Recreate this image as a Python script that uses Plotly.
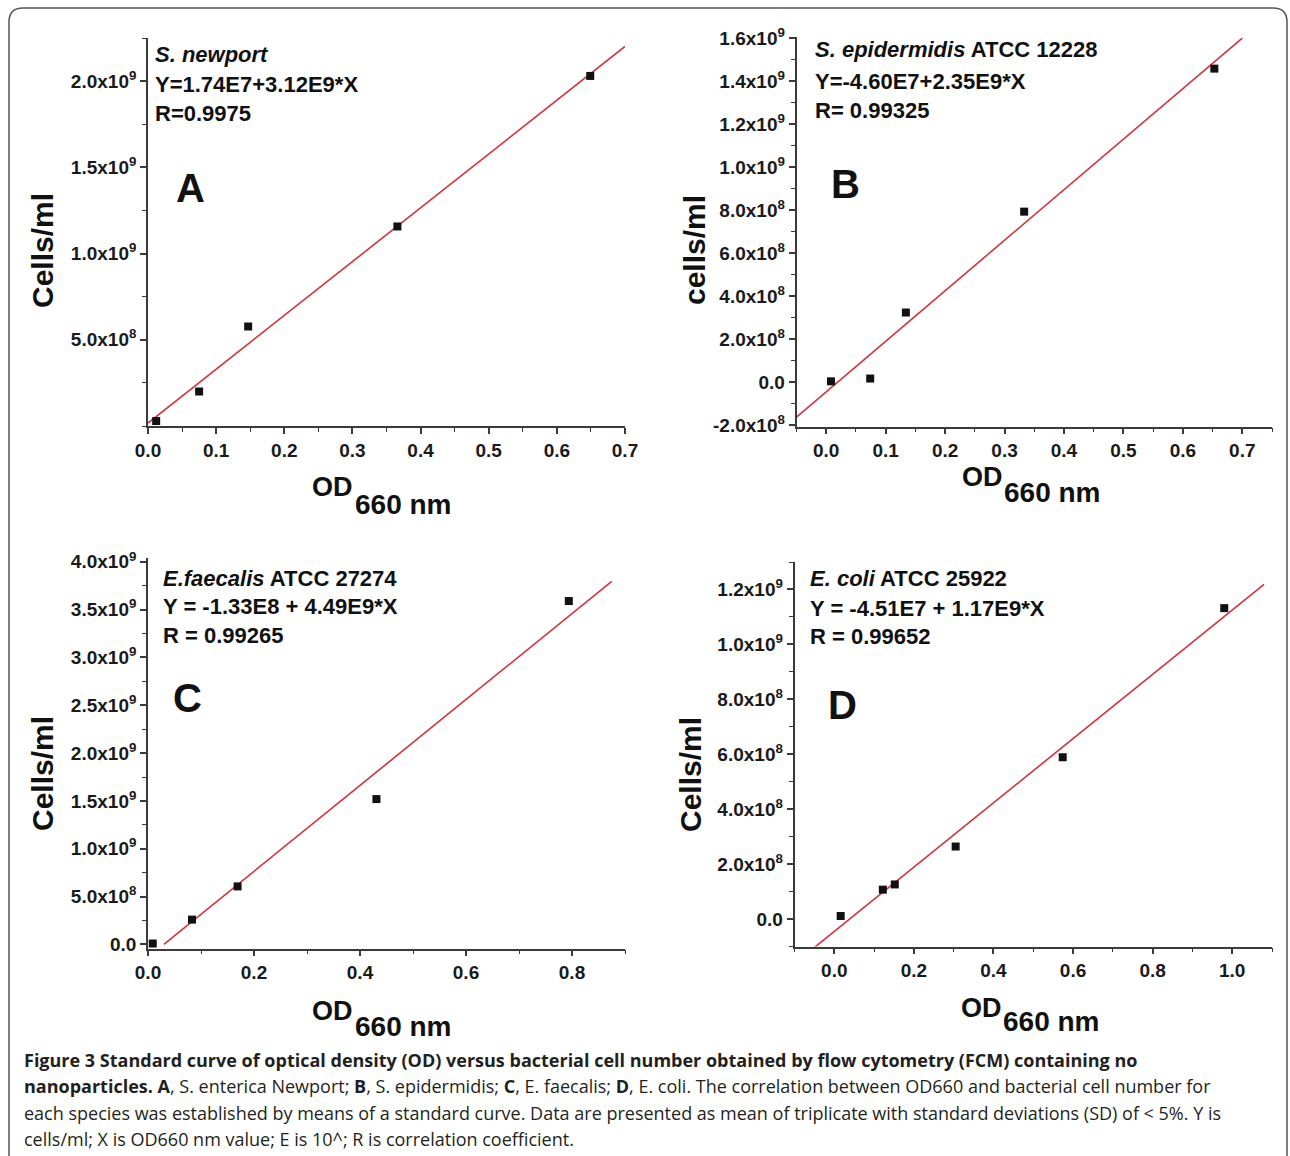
import numpy as np
import plotly.graph_objects as go

W, H = 1290, 1156

# ---------------- data ----------------
# Panel A: S. newport
a_od = [0.012, 0.075, 0.147, 0.366, 0.649]
a_cells = [2.9e7, 2.0e8, 5.77e8, 1.157e9, 2.03e9]
a_fit = (1.74e7, 3.12e9)          # intercept, slope
a_fit_x = [0.0, 0.7]
a_yticks = [5e8, 1e9, 1.5e9, 2e9]
a_ylabels = ["5.0x10<sup>8</sup>", "1.0x10<sup>9</sup>", "1.5x10<sup>9</sup>", "2.0x10<sup>9</sup>"]
a_text = ["<i>S. newport</i>", "Y=1.74E7+3.12E9*X", "R=0.9975"]

# Panel B: S. epidermidis
b_od = [0.008, 0.074, 0.134, 0.333, 0.653]
b_cells = [3e6, 1.6e7, 3.23e8, 7.92e8, 1.457e9]
b_fit = (-4.60e7, 2.35e9)
b_fit_x = [-0.05, 0.7]
b_yticks = [-2e8, 0, 2e8, 4e8, 6e8, 8e8, 1e9, 1.2e9, 1.4e9, 1.6e9]
b_ylabels = ["-2.0x10<sup>8</sup>", "0.0", "2.0x10<sup>8</sup>", "4.0x10<sup>8</sup>", "6.0x10<sup>8</sup>",
             "8.0x10<sup>8</sup>", "1.0x10<sup>9</sup>", "1.2x10<sup>9</sup>", "1.4x10<sup>9</sup>", "1.6x10<sup>9</sup>"]
b_text = ["<i>S. epidermidis</i> ATCC 12228", "Y=-4.60E7+2.35E9*X", "R= 0.99325"]

# Panel C: E. faecalis
c_od = [0.009, 0.083, 0.169, 0.431, 0.794]
c_cells = [1.0e7, 2.6e8, 6.07e8, 1.52e9, 3.59e9]
c_fit = (-1.33e8, 4.49e9)
c_fit_x = [0.03, 0.875]
c_yticks = [0, 5e8, 1e9, 1.5e9, 2e9, 2.5e9, 3e9, 3.5e9, 4e9]
c_ylabels = ["0.0", "5.0x10<sup>8</sup>", "1.0x10<sup>9</sup>", "1.5x10<sup>9</sup>", "2.0x10<sup>9</sup>",
             "2.5x10<sup>9</sup>", "3.0x10<sup>9</sup>", "3.5x10<sup>9</sup>", "4.0x10<sup>9</sup>"]
c_text = ["<i>E.faecalis</i> ATCC 27274", "Y = -1.33E8 + 4.49E9*X", "R = 0.99265"]

# Panel D: E. coli
d_od = [0.016, 0.122, 0.152, 0.305, 0.574, 0.98]
d_cells = [1.1e7, 1.07e8, 1.26e8, 2.64e8, 5.89e8, 1.132e9]
d_fit = (-4.51e7, 1.17e9)
d_fit_x = [-0.06, 1.08]
d_yticks = [0, 2e8, 4e8, 6e8, 8e8, 1e9, 1.2e9]
d_ylabels = ["0.0", "2.0x10<sup>8</sup>", "4.0x10<sup>8</sup>", "6.0x10<sup>8</sup>", "8.0x10<sup>8</sup>",
             "1.0x10<sup>9</sup>", "1.2x10<sup>9</sup>"]
d_text = ["<i>E. coli</i> ATCC 25922", "Y = -4.51E7 + 1.17E9*X", "R = 0.99652"]

caption_lines = [
    "<b>Figure 3 Standard curve of optical density (OD) versus bacterial cell number obtained by flow cytometry (FCM) containing no</b>",
    "<b>nanoparticles. A</b>, S. enterica Newport; <b>B</b>, S. epidermidis; <b>C</b>, E. faecalis; <b>D</b>, E. coli. The correlation between OD660 and bacterial cell number for",
    "each species was established by means of a standard curve. Data are presented as mean of triplicate with standard deviations (SD) of &lt; 5%. Y is",
    "cells/ml; X is OD660 nm value; E is 10^; R is correlation coefficient.",
]

# ---------------- styling / layout ----------------
AX = "#3a3a3a"
RED = "#d2323c"
FONT = "Liberation Sans, Arial, sans-serif"
TICKFONT = dict(family=FONT, size=19, color="#1a1a1a", weight="bold")


def px(x):
    return x / W


def py(y):
    return 1 - y / H


panels = [
    dict(key="", od=a_od, cells=a_cells, fit=a_fit, fit_x=a_fit_x, yt=a_yticks, yl=a_ylabels, text=a_text,
         letter="A", ytitle="Cells/ml",
         xdom=(148, 625), ydom=(38, 426), xr=[0, 0.7], yr=[0, 2.25e9], xd=0.1, xm=0.05, ym=2.5e8,
         tx=153, ty=(54, 84, 113), lpos=(190, 188), ytpos=(42, 251),
         od_pos=(355, 487), nm_pos=(353, 504)),
    dict(key="2", od=b_od, cells=b_cells, fit=b_fit, fit_x=b_fit_x, yt=b_yticks, yl=b_ylabels, text=b_text,
         letter="B", ytitle="cells/ml",
         xdom=(796.5, 1272), ydom=(37, 426.5), xr=[-0.05, 0.75], yr=[-2.07e8, 1.604e9], xd=0.1, xm=0.05, ym=1e8,
         tx=813, ty=(50, 81, 111), lpos=(845, 184), ytpos=(695, 250),
         od_pos=(1005, 477), nm_pos=(1002, 492)),
    dict(key="3", od=c_od, cells=c_cells, fit=c_fit, fit_x=c_fit_x, yt=c_yticks, yl=c_ylabels, text=c_text,
         letter="C", ytitle="Cells/ml",
         xdom=(148, 625), ydom=(558, 948.5), xr=[0, 0.9], yr=[-4.2e7, 4.04e9], xd=0.2, xm=0.1, ym=2.5e8,
         tx=161, ty=(578, 606, 635), lpos=(187, 698), ytpos=(42, 774),
         od_pos=(355, 1011), nm_pos=(353, 1026)),
    dict(key="4", od=d_od, cells=d_cells, fit=d_fit, fit_x=d_fit_x, yt=d_yticks, yl=d_ylabels, text=d_text,
         letter="D", ytitle="Cells/ml",
         xdom=(794.5, 1272), ydom=(562, 946.5), xr=[-0.1, 1.1], yr=[-1.0e8, 1.3e9], xd=0.2, xm=0.1, ym=1e8,
         tx=808, ty=(578, 608, 636), lpos=(842, 705), ytpos=(690, 774),
         od_pos=(1004, 1008), nm_pos=(1001, 1021)),
]

fig = go.Figure()
annotations = []
layout_axes = {}

for p in panels:
    k = p["key"]
    xa, ya = "x" + k, "y" + k
    intercept, slope = p["fit"]
    fit_y = [intercept + slope * x for x in p["fit_x"]]
    fig.add_trace(go.Scatter(x=p["fit_x"], y=fit_y, mode="lines", xaxis=xa, yaxis=ya,
                             line=dict(color=RED, width=1.6), showlegend=False, hoverinfo="skip"))
    fig.add_trace(go.Scatter(x=p["od"], y=p["cells"], mode="markers", xaxis=xa, yaxis=ya,
                             marker=dict(symbol="square", size=8, color="#111111"),
                             cliponaxis=False, showlegend=False))

    layout_axes["xaxis" + k] = dict(
        domain=[px(p["xdom"][0]), px(p["xdom"][1])], range=p["xr"], anchor=ya,
        showline=True, linecolor=AX, linewidth=1.6, mirror=False, automargin=False,
        ticks="outside", ticklen=6, tickwidth=1.6, tickcolor=AX,
        tickmode="linear", tick0=0, dtick=p["xd"], tickformat=".1f", tickfont=TICKFONT,
        showgrid=False, zeroline=False, fixedrange=True,
        minor=dict(ticks="outside", ticklen=4, tickwidth=1.3, tickcolor=AX,
                   tickmode="linear", tick0=0, dtick=p["xm"], showgrid=False),
    )
    layout_axes["yaxis" + k] = dict(
        domain=[py(p["ydom"][1]), py(p["ydom"][0])], range=p["yr"], anchor=xa,
        showline=True, linecolor=AX, linewidth=1.6, mirror=False, automargin=False,
        ticks="outside", ticklen=6, tickwidth=1.6, tickcolor=AX,
        tickmode="array", tickvals=p["yt"], ticktext=p["yl"], tickfont=TICKFONT,
        showgrid=False, zeroline=False, fixedrange=True,
        minor=dict(ticks="outside", ticklen=4, tickwidth=1.3, tickcolor=AX,
                   tickmode="linear", tick0=0, dtick=p["ym"], showgrid=False),
    )

    # info text block
    for line, yy in zip(p["text"], p["ty"]):
        annotations.append(dict(text=line, x=px(p["tx"]), y=py(yy), xref="paper", yref="paper",
                                xanchor="left", yanchor="middle", showarrow=False,
                                font=dict(family=FONT, size=22, color="#111111", weight="bold")))
    # panel letter
    annotations.append(dict(text=p["letter"], x=px(p["lpos"][0]), y=py(p["lpos"][1]), xref="paper", yref="paper",
                            xanchor="center", yanchor="middle", showarrow=False,
                            font=dict(family=FONT, size=40, color="#111111", weight="bold")))
    # y title
    annotations.append(dict(text=p["ytitle"], x=px(p["ytpos"][0]), y=py(p["ytpos"][1]), xref="paper", yref="paper",
                            xanchor="center", yanchor="middle", textangle=-90, showarrow=False,
                            font=dict(family=FONT, size=30, color="#111111", weight="bold")))
    # x title: OD (raised) + 660 nm (lowered)
    annotations.append(dict(text="OD", x=px(p["od_pos"][0]), y=py(p["od_pos"][1]), xref="paper", yref="paper",
                            xanchor="right", yanchor="middle", showarrow=False,
                            font=dict(family=FONT, size=27, color="#111111", weight="bold")))
    annotations.append(dict(text="660 nm", x=px(p["nm_pos"][0]), y=py(p["nm_pos"][1]), xref="paper", yref="paper",
                            xanchor="left", yanchor="middle", showarrow=False,
                            font=dict(family=FONT, size=28, color="#111111", weight="bold")))

# caption
cap_y = [1060, 1086, 1113, 1139]
for line, yy in zip(caption_lines, cap_y):
    annotations.append(dict(text=line, x=px(22), y=py(yy), xref="paper", yref="paper",
                            xanchor="left", yanchor="middle", showarrow=False,
                            font=dict(family="Open Sans, sans-serif", size=18, color="#231f20")))

# rounded outer border
bx0, by0, bx1, by1, r = 9, 8, 1287, 1175, 14
border_path = (f"M {px(bx0)},{py(by1)} L {px(bx0)},{py(by0 + r)} "
               f"Q {px(bx0)},{py(by0)} {px(bx0 + r)},{py(by0)} "
               f"L {px(bx1 - r)},{py(by0)} Q {px(bx1)},{py(by0)} {px(bx1)},{py(by0 + r)} "
               f"L {px(bx1)},{py(by1)}")

fig.update_layout(
    width=W, height=H,
    margin=dict(l=0, r=0, t=0, b=0, pad=0, autoexpand=False),
    paper_bgcolor="white", plot_bgcolor="white",
    showlegend=False,
    annotations=annotations,
    shapes=[dict(type="path", path=border_path, xref="paper", yref="paper",
                 line=dict(color="#555555", width=1.5))],
    **layout_axes,
)

fig.write_html("out.html",
               config={"displayModeBar": False},
               post_script="document.body.style.margin='0';document.body.style.overflow='hidden';")
